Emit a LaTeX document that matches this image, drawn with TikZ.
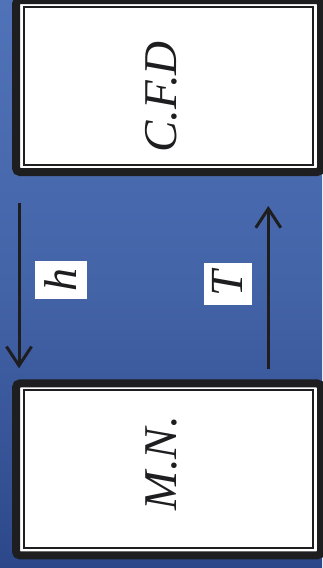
\documentclass[tikz,border=0pt]{standalone}
\usepackage{fontspec}
\setmainfont{Liberation Serif}
\usetikzlibrary{arrows.meta}

\definecolor{bgtop}{RGB}{80,114,184}
\definecolor{bgmid}{RGB}{68,100,168}
\definecolor{bgbot}{RGB}{44,72,138}
\definecolor{framecol}{RGB}{30,30,32}

\begin{document}
\begin{tikzpicture}[x=1pt,y=-1pt,
  panel/.style={draw=framecol, line width=8pt, fill=white, rounded corners=4pt,
    minimum width=305pt, minimum height=172pt, inner sep=0pt, outer sep=0pt},
  innerrule/.style={draw=framecol, line width=2pt},
  paneltext/.style={rotate=90, inner sep=0pt, font=\fontsize{47}{47}\selectfont\itshape, text=framecol},
  flowlabel/.style={rotate=90, fill=white, inner sep=0pt,
    font=\fontsize{46}{46}\selectfont\itshape, text=framecol},
  flow/.style={draw=framecol, line width=3pt,
    -{Straight Barb[length=19pt, width=25pt]}}
]
  % page and background
  \useasboundingbox (0,0) rectangle (322,568);
  \shade[top color=bgtop, bottom color=bgbot, middle color=bgmid] (0,0) rectangle (322,568);

  % the two panels
  \node[panel] (cfd) at (168.5,86) {};
  \node[panel] (mn) at (168.5,469.4) {};
  \draw[innerrule] ([shift={(7.7,7)}]cfd.north west) rectangle ([shift={(-8,-7.5)}]cfd.south east);
  \draw[innerrule] ([shift={(7.7,7)}]mn.north west) rectangle ([shift={(-8,-7.5)}]mn.south east);

  \node[paneltext] (cfdtext) at (161,97) {C.F.D};
  \node[paneltext] (mntext) at (161,463) {M.N.};

  % exchange arrows between the panels
  \coordinate (hstart) at (19,202.7);
  \coordinate (hend) at (19,368.3);
  \coordinate (tstart) at (268.3,369.3);
  \coordinate (tend) at (268.3,206);
  \draw[flow] (hstart) -- (hend);
  \draw[flow] (tstart) -- (tend);

  \node[flowlabel, minimum width=37.7pt, minimum height=51.7pt] (hlabel) at (60.85,279.85) {h};
  \node[flowlabel, minimum width=41.7pt, minimum height=47.7pt] (tlabel) at (227.85,284.15) {T};
\end{tikzpicture}
\end{document}
